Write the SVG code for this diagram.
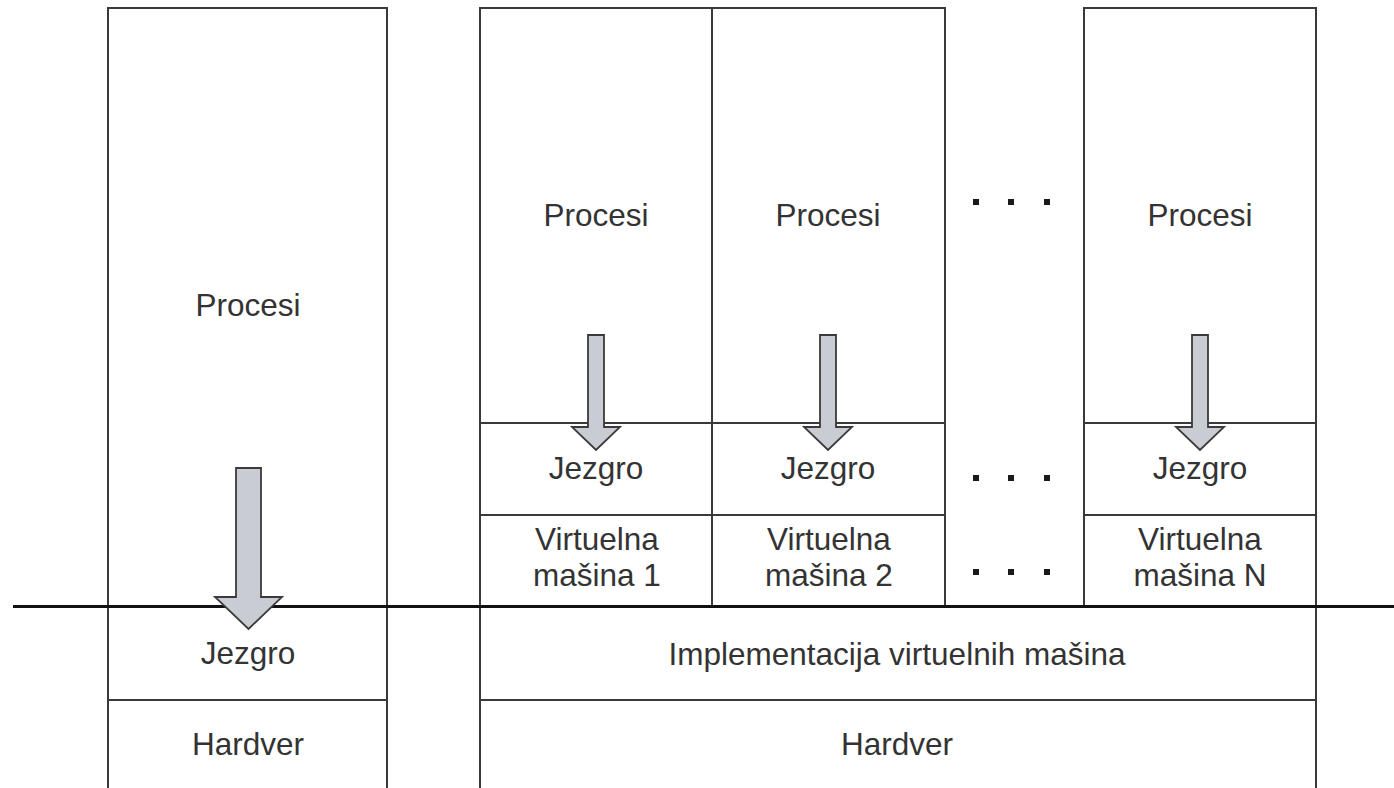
<svg xmlns="http://www.w3.org/2000/svg" width="1394" height="788" viewBox="0 0 1394 788">
<style>
.ln{stroke:#3a3a3a;stroke-width:2;fill:none}
.main{stroke:#111;stroke-width:3;fill:none}
.t{font-family:"Liberation Sans",Arial,sans-serif;font-size:31.5px;fill:#333;text-anchor:middle}
.arr{fill:#c9ccd3;stroke:#3a3a3a;stroke-width:1.8;stroke-linejoin:miter}
.dot{fill:#1a1a1a}
</style>
<rect width="1394" height="788" fill="#fff"/>
<g id="left-stack">
  <path class="ln" d="M108 788 V8 H387 V788 M108 700 H387"/>
  <text class="t" x="248" y="316">Procesi</text>
  <text class="t" x="248" y="664">Jezgro</text>
  <text class="t" x="248" y="755">Hardver</text>
</g>
<g id="vm1">
  <path class="ln" d="M480 606 V8 H712 V606 M480 423 H712 M480 515 H712"/>
  <text class="t" x="596" y="226">Procesi</text>
  <text class="t" x="596" y="479">Jezgro</text>
  <text class="t" x="597" y="550">Virtuelna</text>
  <text class="t" x="597" y="586">mašina 1</text>
</g>
<g id="vm2">
  <path class="ln" d="M712 8 H945 V606 M712 423 H945 M712 515 H945"/>
  <text class="t" x="828" y="226">Procesi</text>
  <text class="t" x="828" y="479">Jezgro</text>
  <text class="t" x="829" y="550">Virtuelna</text>
  <text class="t" x="829" y="586">mašina 2</text>
</g>
<g id="dots">
  <rect class="dot" x="973" y="199" width="6" height="6"/><rect class="dot" x="1008" y="199" width="6" height="6"/><rect class="dot" x="1044" y="199" width="6" height="6"/>
  <rect class="dot" x="973" y="475" width="6" height="6"/><rect class="dot" x="1008" y="475" width="6" height="6"/><rect class="dot" x="1044" y="475" width="6" height="6"/>
  <rect class="dot" x="973" y="569" width="6" height="6"/><rect class="dot" x="1008" y="569" width="6" height="6"/><rect class="dot" x="1044" y="569" width="6" height="6"/>
</g>
<g id="vmN">
  <path class="ln" d="M1084 606 V8 H1316 V606 M1084 423 H1316 M1084 515 H1316"/>
  <text class="t" x="1200" y="226">Procesi</text>
  <text class="t" x="1200" y="479">Jezgro</text>
  <text class="t" x="1200" y="550">Virtuelna</text>
  <text class="t" x="1200" y="586">mašina N</text>
</g>
<g id="vmm">
  <path class="ln" d="M480 788 V606 M1316 788 V606 M480 700 H1316"/>
  <text class="t" x="897" y="665">Implementacija virtuelnih mašina</text>
  <text class="t" x="897" y="755">Hardver</text>
</g>
<g id="connectors">
  <line class="main" x1="13" y1="606.5" x2="1394" y2="606.5"/>
  <path class="arr" d="M236 468 H261 V597 H282 L248.5 629 L215 597 H236 Z"/>
  <path class="arr" d="M588 335 H604 V427 H620 L596 450 L572 427 H588 Z"/>
  <path class="arr" d="M820 335 H836 V427 H852 L828 450 L804 427 H820 Z"/>
  <path class="arr" d="M1192 335 H1208 V427 H1224 L1200 450 L1176 427 H1192 Z"/>
</g>
</svg>
